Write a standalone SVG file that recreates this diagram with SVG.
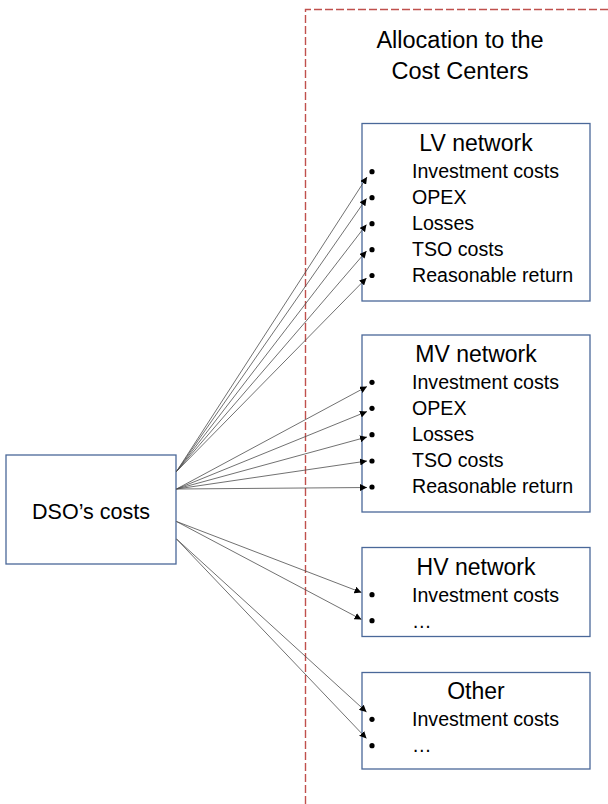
<svg xmlns="http://www.w3.org/2000/svg" width="608" height="804" viewBox="0 0 608 804">
  <style>
    text { font-family: "Liberation Sans", Arial, sans-serif; fill: #000; }
    .box { fill: #fff; stroke: #4a6899; stroke-width: 1.3; }
    .title { font-size: 23px; text-anchor: middle; }
    .item { font-size: 19.6px; }
    .head { font-size: 23.5px; text-anchor: middle; }
    .main { font-size: 21.5px; text-anchor: middle; }
    .dot { fill: #000; }
    .link { stroke: #4d4d4d; stroke-width: 0.8; fill: none; marker-end: url(#tip); }
    .divider { stroke: #c0504d; stroke-width: 1.4; stroke-dasharray: 8 3; fill: none; }
  </style>
  <defs>
    <marker id="tip" viewBox="0 0 10 10" refX="10" refY="5" markerWidth="7" markerHeight="7" markerUnits="userSpaceOnUse" orient="auto">
      <path d="M0,0 L10,5 L0,10 z" fill="#000"/>
    </marker>
  </defs>

  <!-- boundary of the cost-center area -->
  <path class="divider" d="M305.5,804 L305.5,9.5 L608,9.5"/>

  <g id="header">
    <text class="head" x="460" y="48">Allocation to the</text>
    <text class="head" x="460" y="79">Cost Centers</text>
  </g>

  <g id="dso-costs">
    <rect class="box" x="6" y="455" width="170" height="109"/>
    <text class="main" x="91" y="519">DSO’s costs</text>
  </g>

  <g id="lv-network">
    <rect class="box" x="362" y="123.5" width="228" height="177.5"/>
    <text class="title" x="476" y="151">LV network</text>
    <circle class="dot" cx="372" cy="171.7" r="2.6"/>
    <circle class="dot" cx="372" cy="197.7" r="2.6"/>
    <circle class="dot" cx="372" cy="223.7" r="2.6"/>
    <circle class="dot" cx="372" cy="249.7" r="2.6"/>
    <circle class="dot" cx="372" cy="275.5" r="2.6"/>
    <text class="item" x="412" y="178">Investment costs</text>
    <text class="item" x="412" y="204">OPEX</text>
    <text class="item" x="412" y="230">Losses</text>
    <text class="item" x="412" y="256">TSO costs</text>
    <text class="item" x="412" y="282">Reasonable return</text>
  </g>

  <g id="mv-network">
    <rect class="box" x="362" y="335" width="228" height="177"/>
    <text class="title" x="476" y="362">MV network</text>
    <circle class="dot" cx="372" cy="382.3" r="2.6"/>
    <circle class="dot" cx="372" cy="408.3" r="2.6"/>
    <circle class="dot" cx="372" cy="434.7" r="2.6"/>
    <circle class="dot" cx="372" cy="461" r="2.6"/>
    <circle class="dot" cx="372" cy="487" r="2.6"/>
    <text class="item" x="412" y="389">Investment costs</text>
    <text class="item" x="412" y="415">OPEX</text>
    <text class="item" x="412" y="441">Losses</text>
    <text class="item" x="412" y="467">TSO costs</text>
    <text class="item" x="412" y="493">Reasonable return</text>
  </g>

  <g id="hv-network">
    <rect class="box" x="362" y="547.5" width="228" height="89"/>
    <text class="title" x="476" y="575">HV network</text>
    <circle class="dot" cx="372" cy="594.7" r="2.6"/>
    <circle class="dot" cx="372" cy="620.7" r="2.6"/>
    <text class="item" x="412" y="601.5">Investment costs</text>
    <text class="item" x="412" y="628">…</text>
  </g>

  <g id="other">
    <rect class="box" x="362" y="672.5" width="228" height="96.5"/>
    <text class="title" x="476" y="699">Other</text>
    <circle class="dot" cx="372" cy="719.3" r="2.6"/>
    <circle class="dot" cx="372" cy="745.7" r="2.6"/>
    <text class="item" x="412" y="726">Investment costs</text>
    <text class="item" x="412" y="752">…</text>
  </g>

  <g id="connectors">
    <!-- to LV items -->
    <line class="link" x1="176.5" y1="471.5" x2="367" y2="177"/>
    <line class="link" x1="176.5" y1="471.5" x2="366.5" y2="198.5"/>
    <line class="link" x1="176.5" y1="471.5" x2="366.5" y2="224.5"/>
    <line class="link" x1="176.5" y1="471.5" x2="366.5" y2="251"/>
    <line class="link" x1="176.5" y1="471.5" x2="366.5" y2="278"/>
    <!-- to MV items -->
    <line class="link" x1="176.5" y1="489" x2="367" y2="386.5"/>
    <line class="link" x1="176.5" y1="489" x2="367" y2="411.5"/>
    <line class="link" x1="176.5" y1="489" x2="367" y2="437"/>
    <line class="link" x1="176.5" y1="489" x2="367" y2="461"/>
    <line class="link" x1="176.5" y1="489" x2="367" y2="487.5"/>
    <!-- to HV items -->
    <line class="link" x1="176.5" y1="521.5" x2="361.5" y2="592.5"/>
    <line class="link" x1="176.5" y1="521.5" x2="361.5" y2="619.5"/>
    <!-- to Other items -->
    <line class="link" x1="176.5" y1="539" x2="366.5" y2="712"/>
    <line class="link" x1="176.5" y1="539" x2="366.5" y2="738.5"/>
  </g>
</svg>
